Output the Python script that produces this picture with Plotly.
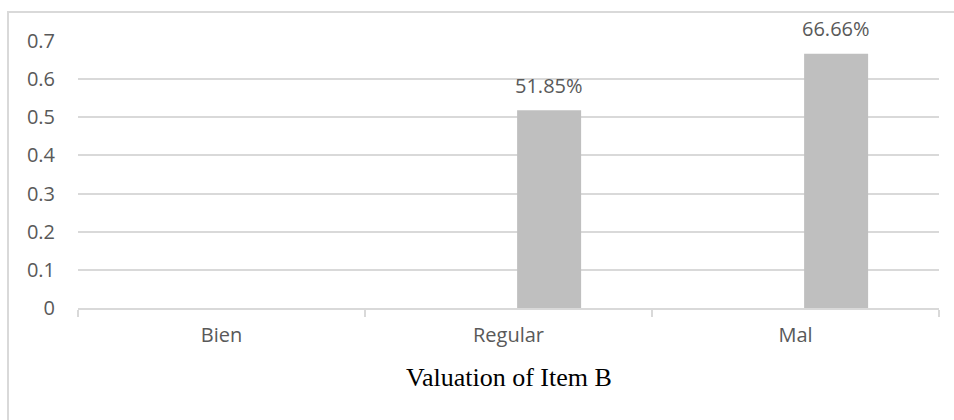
import plotly.graph_objects as go

# Valuation categories and their shares
categories = ["Bien", "Regular", "Mal"]
shares = [0, 0.5185, 0.6666]
share_labels = ["", "51.85%", "66.66%"]
y_ticks = [0, 0.1, 0.2, 0.3, 0.4, 0.5, 0.6, 0.7]
y_tick_text = ["0", "0.1", "0.2", "0.3", "0.4", "0.5", "0.6", "0.7"]

BAR_OFFSET = 0.03
BAR_WIDTH = 0.223
GRID = "#D9D9D9"
TEXT = "#595959"
SANS = "Open Sans"

fig = go.Figure()
fig.add_trace(go.Bar(
    x=categories,
    y=shares,
    offset=BAR_OFFSET,
    width=BAR_WIDTH,
    marker=dict(color="#BFBFBF", line=dict(width=0)),
    hoverinfo="skip",
))

# value labels above each bar
for i, (v, t) in enumerate(zip(shares, share_labels)):
    if not t:
        continue
    fig.add_annotation(
        x=i + BAR_OFFSET + BAR_WIDTH / 2, y=v,
        xref="x", yref="y",
        text=t, showarrow=False,
        yanchor="middle", yshift=25,
        font=dict(family=SANS, size=20, color=TEXT),
    )

# axis title
fig.add_annotation(
    x=0.5, y=-0.262, xref="paper", yref="paper",
    text="Valuation of Item B", showarrow=False,
    xanchor="center", yanchor="middle",
    font=dict(family="Liberation Serif", size=26, color="#000000"),
)

# chart frame
fig.add_shape(
    type="rect", xref="paper", yref="paper",
    x0=-0.0813, x1=1.03, y0=-0.45, y1=1.1086,
    line=dict(color=GRID, width=2), fillcolor="rgba(0,0,0,0)",
    layer="below",
)

fig.update_layout(
    width=954, height=420,
    margin=dict(l=78, r=15, t=41, b=112),
    paper_bgcolor="white", plot_bgcolor="white",
    showlegend=False,
    xaxis=dict(
        type="category",
        range=[-0.5, 2.5],
        showline=True, linecolor=GRID, linewidth=2,
        ticks="outside", tickson="boundaries", ticklen=7, tickcolor=GRID, tickwidth=2,
        showgrid=False,
        tickfont=dict(family=SANS, size=20, color=TEXT),
        ticklabelstandoff=8,
    ),
    yaxis=dict(
        range=[0, 0.7],
        tickvals=y_ticks, ticktext=y_tick_text,
        showgrid=True, gridcolor=GRID, gridwidth=2,
        zeroline=False, showline=False,
        tickfont=dict(family=SANS, size=20, color=TEXT),
        ticklabelstandoff=22,
    ),
)

fig.write_html("out.html")
